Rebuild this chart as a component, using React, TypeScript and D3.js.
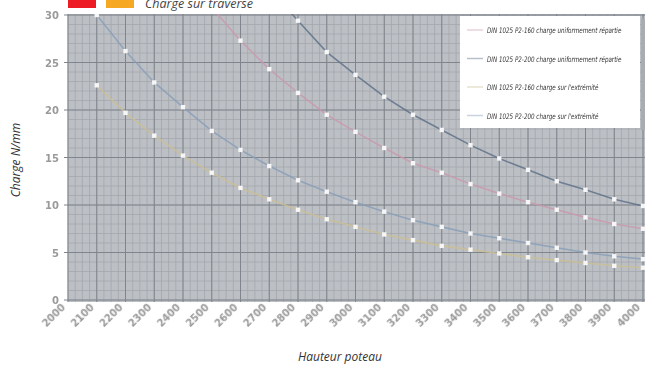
import React from "react";
import * as d3 from "d3";

const heights = d3.range(2000, 4001, 100);
const xTicks = heights;
const yTicks = [0, 5, 10, 15, 20, 25, 30];

// values (N/mm)
const p200Uniform = [null, null, null, null, null, null, null, 32.8, 29.4, 26.1, 23.7, 21.4, 19.5, 17.9, 16.3, 14.9, 13.7, 12.5, 11.6, 10.6, 9.9];
const p160Uniform = [null, null, null, null, null, 30.8, 27.3, 24.3, 21.8, 19.5, 17.7, 16.0, 14.4, 13.4, 12.2, 11.2, 10.3, 9.5, 8.7, 8.0, 7.5];
const p200End = [34.2, 30.0, 26.2, 22.9, 20.3, 17.8, 15.8, 14.1, 12.6, 11.4, 10.3, 9.3, 8.4, 7.7, 7.0, 6.5, 6.0, 5.5, 5.0, 4.6, 4.3];
const p160End = [null, 22.6, 19.7, 17.3, 15.2, 13.4, 11.8, 10.6, 9.5, 8.5, 7.7, 6.9, 6.3, 5.7, 5.3, 4.9, 4.5, 4.2, 3.9, 3.6, 3.4];

const seriesNames = [
  "DIN 1025 P2-160 charge uniformement répartie",
  "DIN 1025 P2-200 charge uniformement répartie",
  "DIN 1025 P2-160 charge sur l'extrémité",
  "DIN 1025 P2-200 charge sur l'extrémité",
];
const seriesValues = [p160Uniform, p200Uniform, p160End, p200End];
const seriesColors = ["#c99aae", "#62738a", "#cbbf95", "#8a9fb8"];

const W = 648, H = 367;
const L = 68, R = 643, T = 15, B = 300;

export default function App() {
  const x = d3.scaleLinear().domain([2000, 4000]).range([L, R]);
  const y = d3.scaleLinear().domain([0, 30]).range([B, T]);
  const line = d3
    .line<[number, number | null]>()
    .defined((d) => d[1] != null)
    .x((d) => x(d[0]))
    .y((d) => y(d[1] as number));

  const minorX = d3.range(2000, 4001, 25);
  const minorY = d3.range(0, 30.01, 1);

  return (
    <svg width={W} height={H} style={{ position: "absolute", left: 0, top: 0, background: "#fff" }}>
      <defs>
        <clipPath id="plot">
          <rect x={L} y={T - 1} width={R - L + 2} height={B - T + 3} />
        </clipPath>
        <filter id="blur" x="-20%" y="-20%" width="140%" height="140%">
          <feGaussianBlur stdDeviation="0.6" />
        </filter>
        <filter id="tblur" x="-5%" y="-20%" width="110%" height="140%">
          <feGaussianBlur stdDeviation="0.35" />
        </filter>
      </defs>
      {/* top legend */}
      <rect x={68} y={-4} width={28} height={12} fill="#ed1c24" />
      <rect x={106} y={-4} width={28} height={12} fill="#f7a823" />
      <text x={145} y={8} fontFamily="Open Sans, sans-serif" fontStyle="italic" fontSize={12.5} fill="#444">
        Charge sur traverse
      </text>

      {/* plot background */}
      <rect x={L} y={T - 1} width={R - L + 2} height={B - T + 3} fill="#bcc0c5" />
      <g filter="url(#blur)">
        {minorX.map((v) => (
          <line key={"mx" + v} x1={x(v)} x2={x(v)} y1={T - 1} y2={B + 2} stroke="#a3a7ad" strokeWidth={0.8} />
        ))}
        {minorY.map((v) => (
          <line key={"my" + v} x1={L} x2={R + 2} y1={y(v)} y2={y(v)} stroke="#a3a7ad" strokeWidth={0.8} />
        ))}
        {xTicks.map((v) => (
          <line key={"gx" + v} x1={x(v)} x2={x(v)} y1={T - 1} y2={B + 2} stroke="#80848c" strokeWidth={1} />
        ))}
        {yTicks.map((v) => (
          <line key={"gy" + v} x1={L - 4} x2={R + 2} y1={y(v)} y2={y(v)} stroke="#80848c" strokeWidth={1} />
        ))}
      </g>

      {/* series */}
      <g clipPath="url(#plot)">
        {seriesValues.map((vals, i) => {
          const pts = heights.map((h, j) => [h, vals[j]] as [number, number | null]);
          return (
            <g key={i}>
              <path d={line(pts) || ""} fill="none" stroke={seriesColors[i]} strokeWidth={1.6} opacity={0.85} filter="url(#tblur)" />
              {pts
                .filter((p) => p[1] != null)
                .map((p) => (
                  <rect
                    key={p[0]}
                    x={x(p[0]) - 2.2}
                    y={y(p[1] as number) - 2.2}
                    width={4.4}
                    height={4.4}
                    fill="#f6f6f6"
                    filter="url(#blur)"
                  />
                ))}
            </g>
          );
        })}
      </g>

      {/* legend box */}
      <rect x={641} y={19} width={4} height={111} fill="#a9acb0" />
      <rect x={460} y={16} width={180} height={112} fill="#ffffff" />
      {seriesNames.map((n, i) => (
        <g key={n}>
          <line x1={467} x2={483} y1={30 + i * 28.5} y2={30 + i * 28.5} stroke={seriesColors[i]} strokeWidth={1.5} opacity={0.45} />
          <text
            x={487}
            y={33.5 + i * 28.5}
            fontFamily="DejaVu Sans Condensed, Liberation Sans Narrow, sans-serif"
            fontStyle="italic"
            fontSize={7.6}
            fill="#333"
            filter="url(#tblur)"
            transform={`translate(${487} 0) scale(0.82 1) translate(${-487} 0)`}
          >
            {n}
          </text>
        </g>
      ))}

      {/* y axis */}
      {yTicks.map((v) => (
        <text key={"yl" + v} x={59} y={y(v) + 4} textAnchor="end" fontFamily="DejaVu Sans, sans-serif" fontSize={10} fill="#9a9a9a" fontWeight="bold" filter="url(#tblur)">
          {v}
        </text>
      ))}
      <text
        transform={`translate(20 ${160}) rotate(-90)`}
        textAnchor="middle"
        fontFamily="Open Sans, sans-serif"
        fontStyle="italic"
        fontSize={12}
        fill="#333"
      >
        Charge N/mm
      </text>

      {/* x axis labels */}
      {xTicks.map((v) => (
        <text
          key={"xl" + v}
          transform={`translate(${x(v) - 2} 308) rotate(-45)`}
          textAnchor="end"
          fontFamily="DejaVu Sans, sans-serif"
          fontSize={10}
          fontWeight="bold"
          fill="#9a9a9a"
          filter="url(#tblur)"
        >
          {v}
        </text>
      ))}
      <text x={340} y={361} textAnchor="middle" fontFamily="Open Sans, sans-serif" fontStyle="italic" fontSize={12} fill="#333">
        Hauteur poteau
      </text>
    </svg>
  );
}
